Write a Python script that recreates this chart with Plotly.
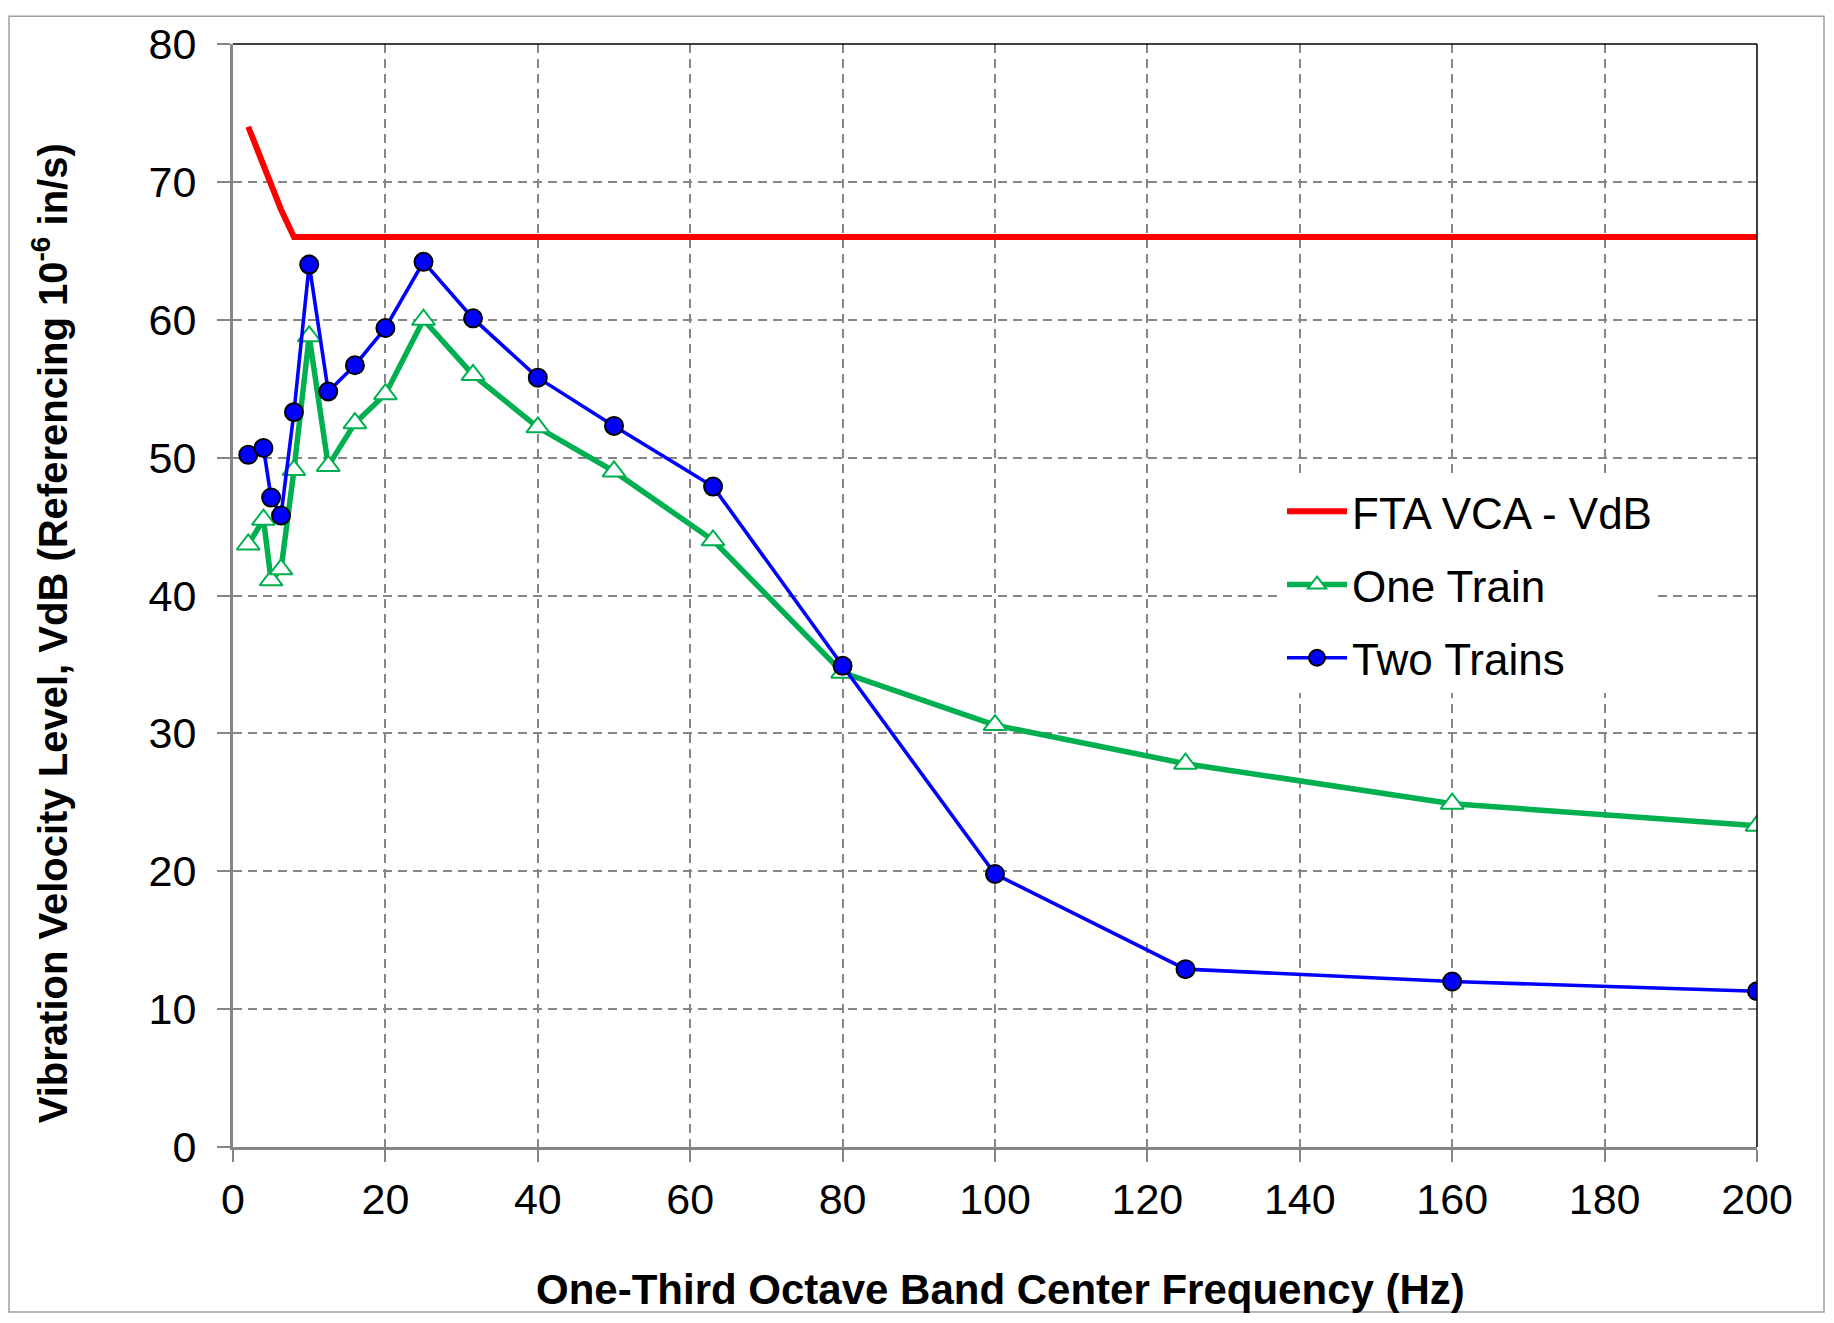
import plotly.graph_objects as go

freq = [2, 4, 5, 6.3, 8, 10, 12.5, 16, 20, 25, 31.5, 40, 50, 63, 80, 100, 125, 160, 200]
fta_vca = [74.0, 71.3, 70.0, 68.0, 66, 66, 66, 66, 66, 66, 66, 66, 66, 66, 66, 66, 66, 66, 66]
one_train = [43.7, 45.5, 41.1, 41.9, 49.1, 58.8, 49.4, 52.5, 54.6, 60.0, 56.0, 52.2, 49.0, 44.0, 34.4, 30.6, 27.8, 24.9, 23.3]
two_trains = [50.2, 50.7, 47.1, 45.8, 53.3, 64.0, 54.8, 56.7, 59.4, 64.2, 60.1, 55.8, 52.3, 47.9, 34.9, 19.8, 12.9, 12.0, 11.3]

x_ticks = [0, 20, 40, 60, 80, 100, 120, 140, 160, 180, 200]
y_ticks = [0, 10, 20, 30, 40, 50, 60, 70, 80]

FONT = "Arial, Liberation Sans, sans-serif"
OFF = 8  # page body margin
W, H = 1818, 1307
L, R, T, B = 225, 69, 29, 168
PW, PH = W - L - R, H - T - B

def px(x):
    return (x - OFF - L) / PW

def py(y):
    return (H - B - (y - OFF)) / PH

fig = go.Figure()
fig.add_trace(go.Scatter(
    x=freq, y=fta_vca, mode="lines", name="FTA VCA - VdB",
    line=dict(color="#FF0000", width=6), legendgroup="a"))
fig.add_trace(go.Scatter(
    x=freq, y=one_train, mode="lines+markers", name="One Train",
    line=dict(color="#00B050", width=5.5),
    marker=dict(symbol="triangle-up", size=20, color="white",
                line=dict(color="#00B050", width=2)), legendgroup="b"))
fig.add_trace(go.Scatter(
    x=freq, y=two_trains, mode="lines+markers", name="Two Trains",
    line=dict(color="#0000FF", width=3.6),
    marker=dict(symbol="circle", size=18, color="#0000FF",
                line=dict(color="black", width=2)), legendgroup="c"))

fig.update_layout(
    width=W, height=H,
    margin=dict(l=L, r=R, t=T, b=B),
    paper_bgcolor="white", plot_bgcolor="white",
    font=dict(family=FONT, size=43, color="black"),
    showlegend=True,
    legend=dict(x=px(1282), y=py(472), xanchor="left", yanchor="top",
                bgcolor="white", borderwidth=0, tracegroupgap=13,
                itemwidth=60, font=dict(family=FONT, size=44, color="black")),
    xaxis=dict(range=[0, 200], tickvals=x_ticks, ticktext=[str(v) for v in x_ticks],
               showgrid=True, gridcolor="#868686", gridwidth=1.5, griddash="9px,6px",
               showline=True, linecolor="#868686", linewidth=3,
               ticks="outside", ticklen=12, tickwidth=1.5, tickcolor="#868686",
               ticklabelstandoff=0, zeroline=False,
               tickfont=dict(family=FONT, size=43, color="black")),
    yaxis=dict(range=[0, 80], tickvals=y_ticks, ticktext=[str(v) for v in y_ticks],
               showgrid=True, gridcolor="#868686", gridwidth=1.5, griddash="9px,6px",
               showline=True, linecolor="#868686", linewidth=3,
               ticks="outside", ticklen=13, tickwidth=1.5, tickcolor="#868686",
               ticklabelstandoff=12, zeroline=False,
               tickfont=dict(family=FONT, size=43, color="black")),
)

# plot-area border (top and right, black)
fig.add_shape(type="line", xref="paper", yref="paper", x0=0, x1=1, y0=1, y1=1,
              line=dict(color="black", width=1.5))
fig.add_shape(type="line", xref="paper", yref="paper", x0=1, x1=1, y0=0, y1=1,
              line=dict(color="black", width=1.5))
# outer chart-area border
fig.add_shape(type="rect", xref="paper", yref="paper",
              x0=px(9), x1=px(1824), y0=py(1313), y1=py(9),
              line=dict(color="#A0A0A0", width=1.5), fillcolor="rgba(0,0,0,0)")

fig.add_annotation(text="<b>One-Third Octave Band Center Frequency (Hz)</b>",
                   xref="paper", yref="paper", x=px(1000), y=py(1290),
                   xanchor="center", yanchor="middle", showarrow=False,
                   font=dict(family=FONT, size=42, color="black"))
fig.add_annotation(text="<b>Vibration Velocity Level, VdB (Referencing 10<sup>-6</sup> in/s)</b>",
                   xref="paper", yref="paper", x=px(50), y=py(630),
                   xanchor="center", yanchor="middle", showarrow=False, textangle=-90,
                   font=dict(family=FONT, size=40, color="black"))

fig.write_html("out.html")
